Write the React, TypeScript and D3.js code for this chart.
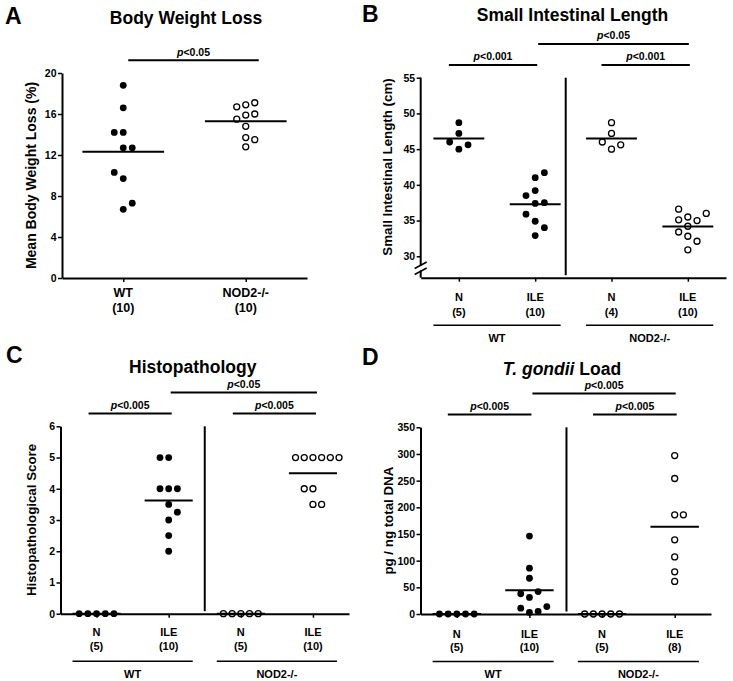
import { useEffect, useMemo, useRef } from "react";
import * as d3 from "d3";

const width = 733;
const height = 681;
const FONT = "'Liberation Sans', Arial, Helvetica, sans-serif";

// ---- Panel A: body weight loss (%) ----
const weightGroups = ["WT", "NOD2-/-"];
const weightCounts = ["(10)", "(10)"];
const weightWT = [18.8, 16.6, 14.2, 14.2, 12.7, 12.7, 10.3, 9.7, 7.3, 6.7];
const weightNOD2 = [17.1, 16.9, 16.7, 16.0, 15.9, 15.5, 14.8, 13.7, 13.5, 12.8];
const weightTicks = [0, 4, 8, 12, 16, 20];

// ---- shared categories for B-D ----
const phaseLabels = ["N", "ILE", "N", "ILE"];
const strainLabels = ["WT", "NOD2-/-"];

// ---- Panel B: small intestinal length (cm) ----
const lengthCounts = ["(5)", "(10)", "(4)", "(10)"];
const lengthWT_N = [48.7, 47.2, 46.0, 45.6, 45.0];
const lengthWT_ILE = [41.7, 41.0, 39.2, 38.5, 37.5, 37.4, 35.9, 34.9, 34.0, 32.9];
const lengthNOD2_N = [48.7, 47.2, 46.0, 45.6, 45.0];
const lengthNOD2_ILE = [36.6, 36.0, 35.5, 35.1, 35.0, 34.2, 33.4, 32.8, 32.1, 30.9];
const lengthTicks = [30, 35, 40, 45, 50, 55];

// ---- Panel C: histopathological score ----
const histoCounts = ["(5)", "(10)", "(5)", "(10)"];
const histoWT_N = [0, 0, 0, 0, 0];
const histoWT_ILE = [5, 5, 4, 4, 4, 3.5, 3.25, 3, 2.5, 2];
const histoNOD2_N = [0, 0, 0, 0, 0];
const histoNOD2_ILE = [5, 5, 5, 5, 5, 5, 4, 4, 3.5, 3.5];
const histoTicks = [0, 1, 2, 3, 4, 5, 6];

// ---- Panel D: T. gondii load (pg / ng total DNA) ----
const loadCounts = ["(5)", "(10)", "(5)", "(8)"];
const loadWT_N = [0, 0, 0, 0, 0];
const loadWT_ILE = [146, 86, 67, 42, 38, 31, 14, 11, 5, 3];
const loadNOD2_N = [0, 0, 0, 0, 0];
const loadNOD2_ILE = [297, 254, 186, 186, 139, 107, 79, 61];
const loadTicks = [0, 50, 100, 150, 200, 250, 300, 350];

type Group = { label: string; count: string; values: number[]; filled: boolean };
type Bracket = { from: number; to: number; text: string; level: number };
type Layout = {
  axisX: number;
  xEnd: number;
  yTop: number;
  yBottom: number;
  letterX: number;
  letterY: number;
  titleX: number;
  titleY: number;
  yLabelX: number;
  yLabelSize: number;
  catSize: number;
  catY: number;
  countY: number;
  laneW: number;
  sepFrac?: number;
  axisBreak?: number;
  adjPad: [number, number];
  acrossPad: [number, number];
};
type PanelSpec = {
  letter: string;
  title: React.ReactNode;
  yLabel: string;
  yDomain: [number, number];
  yTicks: number[];
  groups: Group[];
  strains?: string[];
  brackets: Bracket[];
  layout: Layout;
};

const mkGroups = (counts: string[], sets: number[][]): Group[] =>
  sets.map((values, i) => ({
    label: phaseLabels[i],
    count: counts[i],
    values,
    filled: i < 2,
  }));

const panels: PanelSpec[] = [
  {
    letter: "A",
    title: "Body Weight Loss",
    yLabel: "Mean Body Weight Loss (%)",
    yDomain: [0, 20],
    yTicks: weightTicks,
    groups: [
      { label: weightGroups[0], count: weightCounts[0], values: weightWT, filled: true },
      { label: weightGroups[1], count: weightCounts[1], values: weightNOD2, filled: false },
    ],
    brackets: [{ from: 0, to: 1, text: "p<0.05", level: 0 }],
    layout: {
      axisX: 62, xEnd: 307, yTop: 73, yBottom: 278,
      letterX: 5, letterY: 24, titleX: 186, titleY: 24,
      yLabelX: 31, yLabelSize: 14, catSize: 12.5, catY: 19, countY: 33.5,
      laneW: 9, adjPad: [-5, 13], acrossPad: [0, 0],
    },
  },
  {
    letter: "B",
    title: "Small Intestinal Length",
    yLabel: "Small Intestinal Length (cm)",
    yDomain: [27, 55],
    yTicks: lengthTicks,
    groups: mkGroups(lengthCounts, [lengthWT_N, lengthWT_ILE, lengthNOD2_N, lengthNOD2_ILE]),
    strains: strainLabels,
    brackets: [
      { from: 0, to: 1, text: "p<0.001", level: 0 },
      { from: 2, to: 3, text: "p<0.001", level: 0 },
      { from: 1, to: 3, text: "p<0.05", level: 1 },
    ],
    layout: {
      axisX: 420.7, xEnd: 726, yTop: 77.7, yBottom: 277.7,
      letterX: 362, letterY: 22, titleX: 572.5, titleY: 21,
      yLabelX: 387, yLabelSize: 13.3, catSize: 11, catY: 23.5, countY: 38,
      laneW: 9.2, sepFrac: 0.4, axisBreak: 28.5, adjPad: [10, 2], acrossPad: [-3, 1],
    },
  },
  {
    letter: "C",
    title: "Histopathology",
    yLabel: "Histopathological Score",
    yDomain: [0, 6],
    yTicks: histoTicks,
    groups: mkGroups(histoCounts, [histoWT_N, histoWT_ILE, histoNOD2_N, histoNOD2_ILE]),
    strains: strainLabels,
    brackets: [
      { from: 0, to: 1, text: "p<0.005", level: 0 },
      { from: 2, to: 3, text: "p<0.005", level: 0 },
      { from: 1, to: 3, text: "p<0.05", level: 1 },
    ],
    layout: {
      axisX: 60.5, xEnd: 349, yTop: 426.3, yBottom: 613.7,
      letterX: 6, letterY: 363, titleX: 192.7, titleY: 373,
      yLabelX: 31.5, yLabelSize: 13.3, catSize: 11, catY: 22.5, countY: 36.5,
      laneW: 8.7, sepFrac: 0.5, adjPad: [8, 3], acrossPad: [-2, 4],
    },
  },
  {
    letter: "D",
    title: (
      <>
        <tspan fontStyle="italic">T. gondii</tspan> Load
      </>
    ),
    yLabel: "pg / ng total DNA",
    yDomain: [0, 350],
    yTicks: loadTicks,
    groups: mkGroups(loadCounts, [loadWT_N, loadWT_ILE, loadNOD2_N, loadNOD2_ILE]),
    strains: strainLabels,
    brackets: [
      { from: 0, to: 1, text: "p<0.005", level: 0 },
      { from: 2, to: 3, text: "p<0.005", level: 0 },
      { from: 1, to: 3, text: "p<0.005", level: 1 },
    ],
    layout: {
      axisX: 420.5, xEnd: 711, yTop: 427.3, yBottom: 614,
      letterX: 362, letterY: 365, titleX: 562, titleY: 375,
      yLabelX: 388, yLabelSize: 13.3, catSize: 11, catY: 23.5, countY: 37,
      laneW: 8.7, sepFrac: 0.51, adjPad: [9, 2], acrossPad: [-3, 1],
    },
  },
];

// simple beeswarm: lowest value first, a collision pushes the point to
// the next free lane, alternating sides
function swarmLanes(values: number[], y: (v: number) => number, minGap: number) {
  const order = d3.range(values.length).sort((a, b) => values[a] - values[b]);
  const placed: { lane: number; py: number }[] = [];
  const lanes = new Array(values.length).fill(0);
  let side = 1;
  for (const i of order) {
    const py = y(values[i]);
    const free = (lane: number) =>
      placed.every((p) => p.lane !== lane || Math.abs(p.py - py) >= minGap);
    let lane = 0;
    if (!free(0)) {
      for (let k = 1; k < 20; k++) {
        if (free(side * k)) { lane = side * k; break; }
        if (free(-side * k)) { lane = -side * k; break; }
      }
      side = -side;
    }
    lanes[i] = lane;
    placed.push({ lane, py });
  }
  return lanes;
}

const Panel = ({ spec }: { spec: PanelSpec }) => {
  const L = spec.layout;
  const yAxisRef = useRef<SVGGElement>(null);
  const xAxisRef = useRef<SVGGElement>(null);

  const { xScale, yScale, step } = useMemo(() => {
    const xScale = d3
      .scalePoint<number>()
      .domain(d3.range(spec.groups.length))
      .range([L.axisX, L.xEnd])
      .padding(0.5);
    const yScale = d3.scaleLinear().domain(spec.yDomain).range([L.yBottom, L.yTop]);
    return { xScale, yScale, step: xScale.step() };
  }, [spec]);

  useEffect(() => {
    if (yAxisRef.current) {
      const yAxis = d3
        .axisLeft(yScale)
        .tickValues(spec.yTicks)
        .tickSize(4)
        .tickSizeOuter(0)
        .tickPadding(1.5)
        .tickFormat(d3.format("d"));
      const g = d3.select(yAxisRef.current).call(yAxis);
      g.attr("font-family", FONT).attr("font-size", 10.5).attr("font-weight", "bold");
      g.select(".domain")
        .attr("stroke-width", 2)
        .attr("display", L.axisBreak !== undefined ? "none" : null);
      g.selectAll(".tick line").attr("stroke-width", 1.5);
      g.selectAll(".tick text").attr("fill", "#000");
    }
    if (xAxisRef.current) {
      const xAxis = d3
        .axisBottom(xScale)
        .tickSize(4)
        .tickSizeOuter(0)
        .tickFormat(() => "");
      const g = d3.select(xAxisRef.current).call(xAxis);
      g.select(".domain").attr("stroke-width", 2);
      g.selectAll(".tick line").attr("stroke-width", 1.5);
    }
  }, [xScale, yScale]);

  const yMid = (yScale(spec.yTicks[0]) + yScale(spec.yTicks[spec.yTicks.length - 1])) / 2;

  return (
    <g fontFamily={FONT} fontWeight="bold" fill="#000">
      <text x={L.letterX} y={L.letterY} fontSize={23} fontWeight={900}>
        {spec.letter}
      </text>
      <text x={L.titleX} y={L.titleY} fontSize={17.5} textAnchor="middle">
        {spec.title}
      </text>
      <text
        transform={`translate(${L.yLabelX},${yMid}) rotate(-90)`}
        fontSize={L.yLabelSize}
        textAnchor="middle"
        dominantBaseline="central"
      >
        {spec.yLabel}
      </text>

      <g ref={yAxisRef} transform={`translate(${L.axisX},0)`} />
      <g ref={xAxisRef} transform={`translate(0,${L.yBottom})`} />

      {L.axisBreak !== undefined && (() => {
        const yb = yScale(L.axisBreak);
        return (
          <g stroke="#000" fill="none">
            <line x1={L.axisX} x2={L.axisX} y1={L.yTop} y2={yb - 1.5} strokeWidth={2} />
            <line x1={L.axisX} x2={L.axisX} y1={yb + 3.5} y2={L.yBottom} strokeWidth={2} />
            <line x1={L.axisX - 6} x2={L.axisX + 6} y1={yb + 1.5} y2={yb - 5} strokeWidth={1.5} />
            <line x1={L.axisX - 6} x2={L.axisX + 6} y1={yb + 7.5} y2={yb + 1} strokeWidth={1.5} />
          </g>
        );
      })()}

      {L.sepFrac !== undefined && (
        <line
          x1={xScale(1)! + L.sepFrac * step}
          x2={xScale(1)! + L.sepFrac * step}
          y1={L.yTop}
          y2={L.yBottom - 2.5}
          stroke="#000"
          strokeWidth={2}
        />
      )}

      {spec.brackets.map((b, i) => {
        const pad = b.level === 0 ? L.adjPad : L.acrossPad;
        const x1 = xScale(b.from)! - pad[0];
        const x2 = xScale(b.to)! + pad[1];
        const y = L.yTop - (b.level === 0 ? 12.8 : 33.8);
        return (
          <g key={i}>
            <line x1={x1} x2={x2} y1={y} y2={y} stroke="#000" strokeWidth={2} />
            <text x={(x1 + x2) / 2} y={y - 4.5} fontSize={10.5} textAnchor="middle">
              <tspan fontStyle="italic">{b.text.slice(0, 1)}</tspan>
              {b.text.slice(1)}
            </text>
          </g>
        );
      })}

      {spec.groups.map((grp, gi) => {
        const cx = xScale(gi)!;
        const lanes = swarmLanes(grp.values, yScale, 9);
        const m = d3.mean(grp.values) as number;
        return (
          <g key={gi}>
            <line
              x1={cx - step / 3}
              x2={cx + step / 3}
              y1={yScale(m)}
              y2={yScale(m)}
              stroke="#000"
              strokeWidth={2}
            />
            {grp.values.map((v, vi) => (
              <circle
                key={vi}
                cx={cx + lanes[vi] * L.laneW}
                cy={yScale(v)}
                r={grp.filled ? 3.4 : 3}
                fill={grp.filled ? "#000" : "none"}
                stroke="#000"
                strokeWidth={grp.filled ? 0 : 1.3}
              />
            ))}
            <text x={cx} y={L.yBottom + L.catY} fontSize={L.catSize} textAnchor="middle">
              {grp.label}
            </text>
            <text x={cx} y={L.yBottom + L.countY} fontSize={L.catSize} textAnchor="middle">
              {grp.count}
            </text>
          </g>
        );
      })}

      {spec.strains?.map((s, si) => {
        const x1 = xScale(si * 2)! - step / 3;
        const x2 = xScale(si * 2 + 1)! + step / 3;
        return (
          <g key={s}>
            <line
              x1={x1}
              x2={x2}
              y1={L.yBottom + 47.5}
              y2={L.yBottom + 47.5}
              stroke="#000"
              strokeWidth={1.5}
            />
            <text x={(x1 + x2) / 2} y={L.yBottom + 64} fontSize={L.catSize} textAnchor="middle">
              {s}
            </text>
          </g>
        );
      })}
    </g>
  );
};

const App = () => (
  <svg
    width={width}
    height={height}
    style={{ position: "absolute", left: 0, top: 0, background: "#fff" }}
  >
    {panels.map((p) => (
      <Panel key={p.letter} spec={p} />
    ))}
  </svg>
);

export default App;
